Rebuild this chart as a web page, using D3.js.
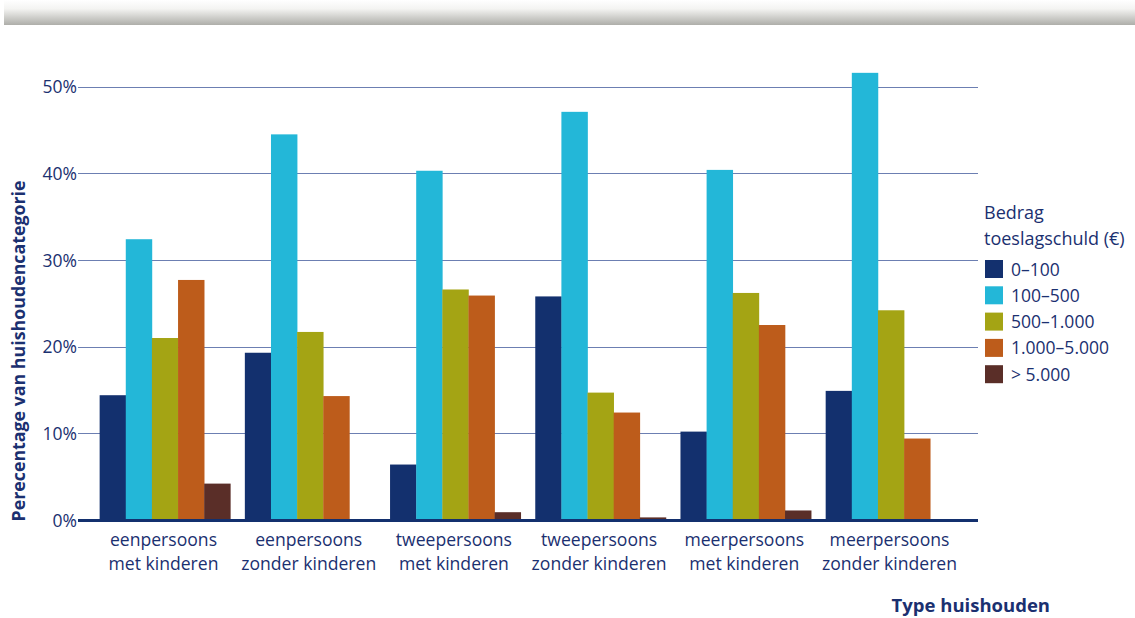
<!DOCTYPE html>
<html><head><meta charset="utf-8">
<script src="https://cdn.jsdelivr.net/npm/d3@7"></script>
<style>body{margin:0;background:#fff}svg{display:block}text{font-family:"Open Sans",Lato,sans-serif;fill:#1b3070}</style>
</head><body><svg id="c" width="1135" height="618"></svg>
<script>
const categories = [["eenpersoons","met kinderen"],["eenpersoons","zonder kinderen"],["tweepersoons","met kinderen"],["tweepersoons","zonder kinderen"],["meerpersoons","met kinderen"],["meerpersoons","zonder kinderen"]];
const seriesNames = ["0–100","100–500","500–1.000","1.000–5.000","> 5.000"];
const s0_100 = [14.4,19.3,6.4,25.8,10.2,14.9];
const s100_500 = [32.4,44.5,40.3,47.1,40.4,51.6];
const s500_1000 = [21.0,21.7,26.6,14.7,26.2,24.2];
const s1000_5000 = [27.7,14.3,25.9,12.4,22.5,9.4];
const s5000plus = [4.2,0,0.9,0.3,1.1,0];
const yTicks = [0,10,20,30,40,50];
const colors = ["#13306e","#23b7d8","#a4a414","#bd5c1b","#5a2e28"];
const seriesVals = [s0_100,s100_500,s500_1000,s1000_5000,s5000plus];

const svg = d3.select("#c");
const defs = svg.append("defs");
const g = defs.append("linearGradient").attr("id","tg").attr("x1",0).attr("x2",0).attr("y1",0).attr("y2",1);
g.append("stop").attr("offset","0%").attr("stop-color","#ffffff");
g.append("stop").attr("offset","35%").attr("stop-color","#f4f4f2");
g.append("stop").attr("offset","100%").attr("stop-color","#aeaea9");
svg.append("rect").attr("x",4).attr("y",0).attr("width",1131).attr("height",25).attr("fill","url(#tg)");

const x0 = d3.scaleBand().domain(d3.range(categories.length)).range([78,978]).paddingInner(0.1).paddingOuter(0.149);
const x1 = d3.scaleBand().domain(d3.range(seriesNames.length)).range([0,x0.bandwidth()]);
const y = d3.scaleLinear().domain([0,50]).range([520,86.7]);

const grid = svg.append("g");
grid.selectAll("line").data(yTicks.filter(t=>t>0)).join("line")
  .attr("x1",78).attr("x2",978).attr("y1",d=>Math.round(y(d))+0.5).attr("y2",d=>Math.round(y(d))+0.5)
  .attr("stroke","#6c7fb2").attr("stroke-width",1);

svg.append("g").selectAll("text").data(yTicks).join("text")
  .attr("x",77).attr("y",d=>y(d)+6.5).attr("text-anchor","end").attr("font-size",17.5).text(d=>d+"%");

const groups = svg.append("g").selectAll("g").data(categories).join("g")
  .attr("transform",(d,i)=>`translate(${x0(i)},0)`);
groups.selectAll("rect").data((d,i)=>seriesVals.map((s,k)=>({k,v:s[i]}))).join("rect")
  .attr("x",d=>x1(d.k)).attr("width",x1.bandwidth()+0.3)
  .attr("y",d=>y(d.v)).attr("height",d=>y(0)-y(d.v)).attr("fill",d=>colors[d.k]);

svg.append("line").attr("x1",78).attr("x2",978).attr("y1",520.5).attr("y2",520.5).attr("stroke","#13306e").attr("stroke-width",3);

const xl = svg.append("g").selectAll("text").data(categories).join("text")
  .attr("text-anchor","middle").attr("font-size",17.6);
xl.each(function(d,i){
  const t=d3.select(this);
  d.forEach((line,j)=>t.append("tspan").attr("x",x0(i)+x0.bandwidth()/2 - 1.5).attr("y",546+j*24).text(line));
});

svg.append("text").attr("transform","translate(25,351) rotate(-90)").attr("text-anchor","middle")
  .attr("font-size",17.8).attr("font-weight","bold").text("Perecentage van huishoudencategorie");
svg.append("text").attr("x",1050).attr("y",612).attr("text-anchor","end").attr("font-size",18.5).attr("font-weight","bold").text("Type huishouden");

const lg = svg.append("g");
lg.append("text").attr("x",984).attr("y",219).attr("font-size",18).text("Bedrag");
lg.append("text").attr("x",984).attr("y",245).attr("font-size",18).text("toeslagschuld (€)");
const items = lg.selectAll("g.it").data(seriesNames).join("g").attr("class","it")
  .attr("transform",(d,i)=>`translate(985,${260+i*26.3})`);
items.append("rect").attr("width",18).attr("height",18).attr("fill",(d,i)=>colors[i]);
items.append("text").attr("x",26).attr("y",15.5).attr("font-size",17.5).text(d=>d);
</script></body></html>
